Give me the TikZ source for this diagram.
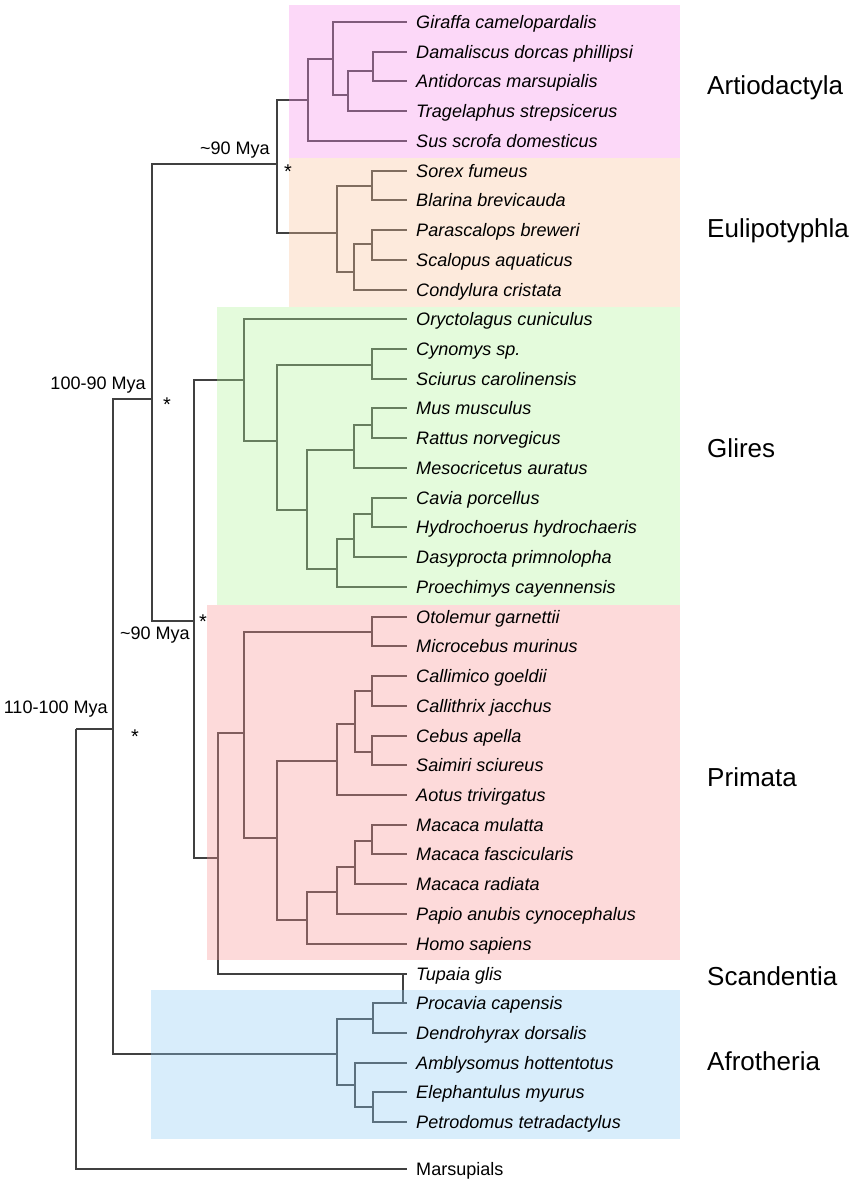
\documentclass[tikz,border=0pt]{standalone}
\usepackage{fontspec}
\setmainfont{Liberation Sans}
\usepackage{tikz}

\definecolor{artioC}{RGB}{246,144,235}
\definecolor{eulipC}{RGB}{249,195,155}
\definecolor{gliresC}{RGB}{178,244,155}
\definecolor{primC}{RGB}{249,149,149}
\definecolor{afroC}{RGB}{144,204,244}

\tikzset{
  branch/.style={draw=black!75, line width=0.9pt},
  tip/.style={anchor=west, inner xsep=0.27cm, inner ysep=0pt, text height=11.1pt, text depth=0pt,
    font=\fontsize{15.4pt}{18pt}\selectfont},
  leaf/.style={tip, font=\fontsize{15.4pt}{18pt}\selectfont\itshape},
  mya/.style={anchor=east, inner sep=0pt, text height=11.1pt, text depth=0pt,
    font=\fontsize{15.4pt}{18pt}\selectfont},
  star/.style={anchor=base, inner sep=0pt, font=\fontsize{17pt}{18pt}\selectfont},
  clade/.style={anchor=west, inner sep=0pt, text height=16pt, text depth=0pt,
    font=\fontsize{22.2pt}{26pt}\selectfont},
  shade/.style={fill opacity=0.35}
}

\begin{document}
\begin{tikzpicture}[x=0.03cm, y=-0.03cm]
\useasboundingbox (0,0) rectangle (850,1182);

%% leaf tips
\coordinate (giraffa) at (407,22);
\coordinate (damaliscus) at (407,52);
\coordinate (antidorcas) at (407,81);
\coordinate (tragelaphus) at (407,111);
\coordinate (sus) at (407,141);
\coordinate (sorex) at (407,171);
\coordinate (blarina) at (407,200);
\coordinate (parascalops) at (407,230);
\coordinate (scalopus) at (407,260);
\coordinate (condylura) at (407,290);
\coordinate (oryctolagus) at (407,319);
\coordinate (cynomys) at (407,349);
\coordinate (sciurus) at (407,379);
\coordinate (mus) at (407,408);
\coordinate (rattus) at (407,438);
\coordinate (mesocricetus) at (407,468);
\coordinate (cavia) at (407,498);
\coordinate (hydrochoerus) at (407,527);
\coordinate (dasyprocta) at (407,557);
\coordinate (proechimys) at (407,587);
\coordinate (otolemur) at (407,617);
\coordinate (microcebus) at (407,646);
\coordinate (callimico) at (407,676);
\coordinate (callithrix) at (407,706);
\coordinate (cebus) at (407,736);
\coordinate (saimiri) at (407,765);
\coordinate (aotus) at (407,795);
\coordinate (mulatta) at (407,825);
\coordinate (fascicularis) at (407,854);
\coordinate (radiata) at (407,884);
\coordinate (papio) at (407,914);
\coordinate (homo) at (407,944);
\coordinate (tupaia) at (407,974);
\coordinate (procavia) at (407,1003);
\coordinate (dendrohyrax) at (407,1033);
\coordinate (amblysomus) at (407,1063);
\coordinate (elephantulus) at (407,1092);
\coordinate (petrodomus) at (407,1122);
\coordinate (marsupials) at (407,1169);

%% inner nodes
\coordinate (root) at (76,729);
\coordinate (placent) at (113,729);
\coordinate (boreo) at (152,399);
\coordinate (laur) at (277,164);
\coordinate (art1) at (308,100);
\coordinate (art2) at (333,59);
\coordinate (art3) at (348,95);
\coordinate (art4) at (373,71);
\coordinate (eul1) at (337,233);
\coordinate (eul2) at (372,186);
\coordinate (eul3) at (354,272);
\coordinate (eul4) at (372,244);
\coordinate (euarch) at (194,621);
\coordinate (gli1) at (244,380);
\coordinate (gli2) at (277,441);
\coordinate (gli3) at (372,365);
\coordinate (gli4) at (307,510);
\coordinate (gli5) at (354,450);
\coordinate (gli6) at (372,425);
\coordinate (gli7) at (337,569);
\coordinate (gli8) at (354,539);
\coordinate (gli9) at (372,514);
\coordinate (eua) at (218,858);
\coordinate (pri1) at (244,733);
\coordinate (pri2) at (372,632);
\coordinate (pri3) at (277,838);
\coordinate (pri4) at (337,761);
\coordinate (pri5) at (355,724);
\coordinate (pri6) at (372,691);
\coordinate (pri7) at (372,752);
\coordinate (pri8) at (307,920);
\coordinate (pri9) at (337,892);
\coordinate (pri10) at (355,867);
\coordinate (pri11) at (372,841);
\coordinate (tupj) at (403,974);
\coordinate (afr1) at (337,1054);
\coordinate (afr2) at (373,1019);
\coordinate (afr3) at (355,1085);
\coordinate (afr4) at (373,1107);

%% branches
\draw[branch] (root) |- (placent);
\draw[branch] (root) |- (marsupials);
\draw[branch] (placent) |- (boreo);
\draw[branch] (placent) |- (afr1);
\draw[branch] (boreo) |- (laur);
\draw[branch] (boreo) |- (euarch);
%% Laurasiatheria
\draw[branch] (laur) |- (art1);
\draw[branch] (laur) |- (eul1);
\draw[branch] (art1) |- (art2);
\draw[branch] (art1) |- (sus);
\draw[branch] (art2) |- (giraffa);
\draw[branch] (art2) |- (art3);
\draw[branch] (art3) |- (art4);
\draw[branch] (art3) |- (tragelaphus);
\draw[branch] (art4) |- (damaliscus);
\draw[branch] (art4) |- (antidorcas);
\draw[branch] (eul1) |- (eul2);
\draw[branch] (eul1) |- (eul3);
\draw[branch] (eul2) |- (sorex);
\draw[branch] (eul2) |- (blarina);
\draw[branch] (eul3) |- (eul4);
\draw[branch] (eul3) |- (condylura);
\draw[branch] (eul4) |- (parascalops);
\draw[branch] (eul4) |- (scalopus);
%% Euarchontoglires
\draw[branch] (euarch) |- (gli1);
\draw[branch] (euarch) |- (eua);
\draw[branch] (gli1) |- (oryctolagus);
\draw[branch] (gli1) |- (gli2);
\draw[branch] (gli2) |- (gli3);
\draw[branch] (gli2) |- (gli4);
\draw[branch] (gli3) |- (cynomys);
\draw[branch] (gli3) |- (sciurus);
\draw[branch] (gli4) |- (gli5);
\draw[branch] (gli4) |- (gli7);
\draw[branch] (gli5) |- (gli6);
\draw[branch] (gli5) |- (mesocricetus);
\draw[branch] (gli6) |- (mus);
\draw[branch] (gli6) |- (rattus);
\draw[branch] (gli7) |- (gli8);
\draw[branch] (gli7) |- (proechimys);
\draw[branch] (gli8) |- (gli9);
\draw[branch] (gli8) |- (dasyprocta);
\draw[branch] (gli9) |- (cavia);
\draw[branch] (gli9) |- (hydrochoerus);
\draw[branch] (eua) |- (pri1);
\draw[branch] (eua) |- (tupj) -- (tupaia);
\draw[branch] (tupj) -- (tupj |- procavia);
\draw[branch] (pri1) |- (pri2);
\draw[branch] (pri1) |- (pri3);
\draw[branch] (pri2) |- (otolemur);
\draw[branch] (pri2) |- (microcebus);
\draw[branch] (pri3) |- (pri4);
\draw[branch] (pri3) |- (pri8);
\draw[branch] (pri4) |- (pri5);
\draw[branch] (pri4) |- (aotus);
\draw[branch] (pri5) |- (pri6);
\draw[branch] (pri5) |- (pri7);
\draw[branch] (pri6) |- (callimico);
\draw[branch] (pri6) |- (callithrix);
\draw[branch] (pri7) |- (cebus);
\draw[branch] (pri7) |- (saimiri);
\draw[branch] (pri8) |- (pri9);
\draw[branch] (pri8) |- (homo);
\draw[branch] (pri9) |- (pri10);
\draw[branch] (pri9) |- (papio);
\draw[branch] (pri10) |- (pri11);
\draw[branch] (pri10) |- (radiata);
\draw[branch] (pri11) |- (mulatta);
\draw[branch] (pri11) |- (fascicularis);
%% Afrotheria
\draw[branch] (afr1) |- (afr2);
\draw[branch] (afr1) |- (afr3);
\draw[branch] (afr2) |- (procavia);
\draw[branch] (afr2) |- (dendrohyrax);
\draw[branch] (afr3) |- (amblysomus);
\draw[branch] (afr3) |- (afr4);
\draw[branch] (afr4) |- (elephantulus);
\draw[branch] (afr4) |- (petrodomus);

%% clade boxes
\fill[shade, artioC] (289,5) rectangle (680,158);
\fill[shade, eulipC] (289,158) rectangle (680,307);
\fill[shade, gliresC] (217,307) rectangle (680,605);
\fill[shade, primC] (207,605) rectangle (680,960);
\fill[shade, afroC] (151,990) rectangle (680,1139);

%% leaf names
\node[leaf] (tgiraffa) at (giraffa) {Giraffa camelopardalis};
\node[leaf] (tdamaliscus) at (damaliscus) {Damaliscus dorcas phillipsi};
\node[leaf] (tantidorcas) at (antidorcas) {Antidorcas marsupialis};
\node[leaf] (ttragelaphus) at (tragelaphus) {Tragelaphus strepsicerus};
\node[leaf] (tsus) at (sus) {Sus scrofa domesticus};
\node[leaf] (tsorex) at (sorex) {Sorex fumeus};
\node[leaf] (tblarina) at (blarina) {Blarina brevicauda};
\node[leaf] (tparascalops) at (parascalops) {Parascalops breweri};
\node[leaf] (tscalopus) at (scalopus) {Scalopus aquaticus};
\node[leaf] (tcondylura) at (condylura) {Condylura cristata};
\node[leaf] (toryctolagus) at (oryctolagus) {Oryctolagus cuniculus};
\node[leaf] (tcynomys) at (cynomys) {Cynomys sp.};
\node[leaf] (tsciurus) at (sciurus) {Sciurus carolinensis};
\node[leaf] (tmus) at (mus) {Mus musculus};
\node[leaf] (trattus) at (rattus) {Rattus norvegicus};
\node[leaf] (tmesocricetus) at (mesocricetus) {Mesocricetus auratus};
\node[leaf] (tcavia) at (cavia) {Cavia porcellus};
\node[leaf] (thydrochoerus) at (hydrochoerus) {Hydrochoerus hydrochaeris};
\node[leaf] (tdasyprocta) at (dasyprocta) {Dasyprocta primnolopha};
\node[leaf] (tproechimys) at (proechimys) {Proechimys cayennensis};
\node[leaf] (totolemur) at (otolemur) {Otolemur garnettii};
\node[leaf] (tmicrocebus) at (microcebus) {Microcebus murinus};
\node[leaf] (tcallimico) at (callimico) {Callimico goeldii};
\node[leaf] (tcallithrix) at (callithrix) {Callithrix jacchus};
\node[leaf] (tcebus) at (cebus) {Cebus apella};
\node[leaf] (tsaimiri) at (saimiri) {Saimiri sciureus};
\node[leaf] (taotus) at (aotus) {Aotus trivirgatus};
\node[leaf] (tmulatta) at (mulatta) {Macaca mulatta};
\node[leaf] (tfascicularis) at (fascicularis) {Macaca fascicularis};
\node[leaf] (tradiata) at (radiata) {Macaca radiata};
\node[leaf] (tpapio) at (papio) {Papio anubis cynocephalus};
\node[leaf] (thomo) at (homo) {Homo sapiens};
\node[leaf] (ttupaia) at (tupaia) {Tupaia glis};
\node[leaf] (tprocavia) at (procavia) {Procavia capensis};
\node[leaf] (tdendrohyrax) at (dendrohyrax) {Dendrohyrax dorsalis};
\node[leaf] (tamblysomus) at (amblysomus) {Amblysomus hottentotus};
\node[leaf] (telephantulus) at (elephantulus) {Elephantulus myurus};
\node[leaf] (tpetrodomus) at (petrodomus) {Petrodomus tetradactylus};
\node[tip] (tmarsupials) at (marsupials) {Marsupials};

%% divergence times and support
\node[mya] (mya1) at (270,148) {\textasciitilde90 Mya};
\node[mya] (mya2) at (146,383) {100-90 Mya};
\node[mya] (mya3) at (190,633) {\textasciitilde90 Mya};
\node[mya] (mya4) at (108,707) {110-100 Mya};
\node[star] (s1) at (288,178) {*};
\node[star] (s2) at (167,411) {*};
\node[star] (s3) at (203,628) {*};
\node[star] (s4) at (135,743) {*};

%% clade names
\node[clade] (lartio) at (707,85) {Artiodactyla};
\node[clade] (leulip) at (707,228) {Eulipotyphla};
\node[clade] (lglires) at (707,448) {Glires};
\node[clade] (lprim) at (707,777) {Primata};
\node[clade] (lscand) at (707,976) {Scandentia};
\node[clade] (lafro) at (707,1061) {Afrotheria};
\end{tikzpicture}
\end{document}
